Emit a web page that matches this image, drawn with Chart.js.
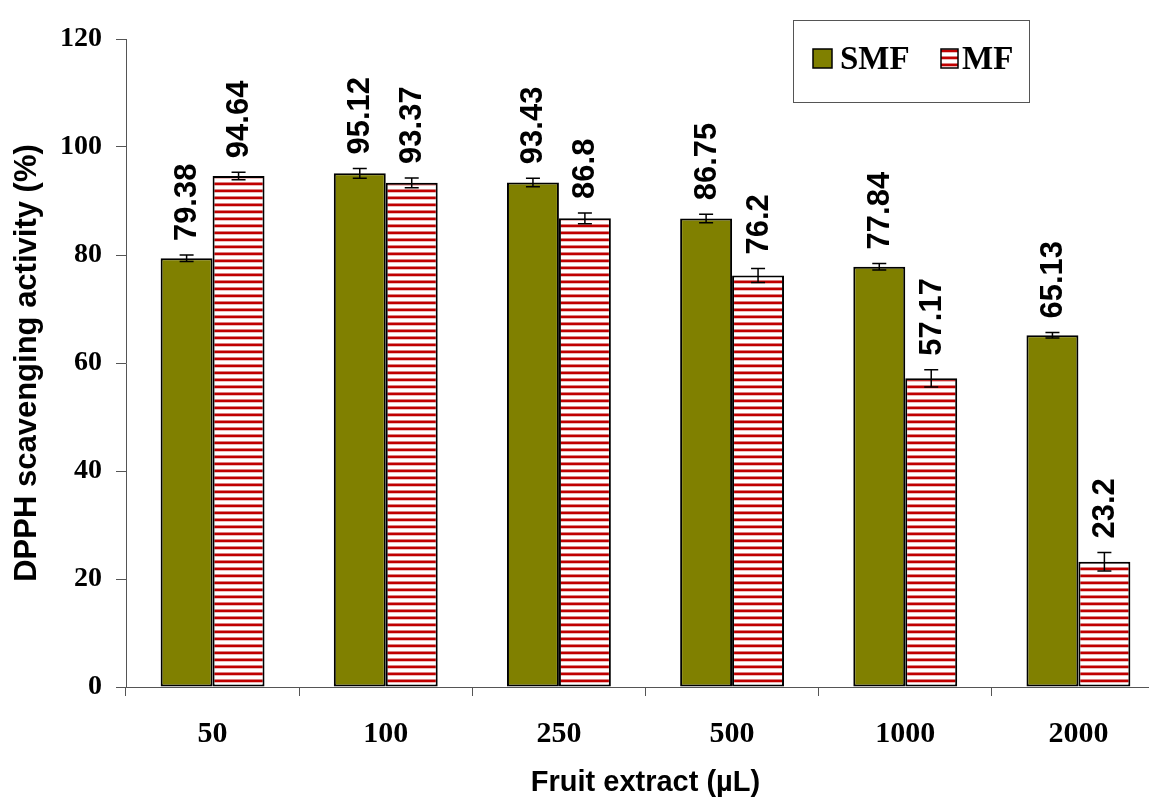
<!DOCTYPE html>
<html>
<head>
<meta charset="utf-8">
<script src="https://cdn.jsdelivr.net/npm/chart.js@4.4.0/dist/chart.umd.min.js"></script>
<style>
  html, body { margin: 0; padding: 0; overflow: hidden; background: #fff; }
  #chart-box { width: 1165px; height: 805px; }
</style>
</head>
<body>
<div id="chart-box"><canvas id="dpph-chart" width="1165" height="805"></canvas></div>
<script>
// values
const doses = ['50', '100', '250', '500', '1000', '2000'];
const smfValues = [79.38, 95.12, 93.43, 86.75, 77.84, 65.13];
const mfValues = [94.64, 93.37, 86.8, 76.2, 57.17, 23.2];
const smfErrors = [0.6, 0.9, 0.8, 0.8, 0.6, 0.5];
const mfErrors = [0.7, 0.9, 1.0, 1.3, 1.6, 1.7];
const yTicks = [0, 20, 40, 60, 80, 100, 120];

const OLIVE = '#808000';
const AXIS_GREY = '#555555';

// horizontal red/white stripes like the MF fill
function makeStripes() {
    const p = document.createElement('canvas');
    p.width = 4;
    p.height = 7;
    const c = p.getContext('2d');
    const rows = ['#dc8080', '#c00000', '#c00000', '#eebbbb', '#ffffff', '#ffffff', '#ffffff'];
    rows.forEach((col, r) => {
        c.fillStyle = col;
        c.fillRect(0, r, 4, 1);
    });
    return document.getElementById('dpph-chart').getContext('2d').createPattern(p, 'repeat');
}
const stripes = makeStripes();

const errors = [smfErrors, mfErrors];

// error bars + rotated value labels
const barExtras = {
    id: 'barExtras',
    afterDatasetsDraw(chart) {
        const ctx = chart.ctx;
        const yScale = chart.scales.y;
        chart.data.datasets.forEach((ds, di) => {
            const meta = chart.getDatasetMeta(di);
            meta.data.forEach((bar, i) => {
                const v = ds.data[i];
                const e = errors[di][i];
                const yHi = yScale.getPixelForValue(v + e);
                const yLo = yScale.getPixelForValue(v - e);
                ctx.save();
                ctx.strokeStyle = '#000';
                ctx.lineWidth = 1.5;
                ctx.beginPath();
                ctx.moveTo(bar.x, yLo);
                ctx.lineTo(bar.x, yHi);
                ctx.moveTo(bar.x - 7, yHi);
                ctx.lineTo(bar.x + 7, yHi);
                ctx.moveTo(bar.x - 7, yLo);
                ctx.lineTo(bar.x + 7, yLo);
                ctx.stroke();

                ctx.translate(bar.x, yHi - 14);
                ctx.rotate(-Math.PI / 2);
                ctx.fillStyle = '#000';
                ctx.font = 'bold 31px "Liberation Sans", Arial, sans-serif';
                ctx.textAlign = 'left';
                ctx.textBaseline = 'middle';
                ctx.fillText(String(v), 0, 1);
                ctx.restore();
            });
        });
    }
};

// boxed legend in the top right corner
const boxLegend = {
    id: 'boxLegend',
    afterDraw(chart) {
        const ctx = chart.ctx;
        ctx.save();
        ctx.fillStyle = '#fff';
        ctx.fillRect(793, 20, 236, 82);
        ctx.strokeStyle = AXIS_GREY;
        ctx.lineWidth = 1;
        ctx.strokeRect(793.5, 20.5, 236, 82);

        ctx.fillStyle = OLIVE;
        ctx.fillRect(813, 49, 19, 19);
        ctx.strokeStyle = '#000';
        ctx.lineWidth = 1.5;
        ctx.strokeRect(813, 49, 19, 19);

        ctx.fillStyle = stripes;
        ctx.fillRect(941, 49, 17, 19);
        ctx.strokeRect(941, 49, 17, 19);

        ctx.fillStyle = '#000';
        ctx.font = 'bold 33px "Liberation Serif", "Times New Roman", serif';
        ctx.textAlign = 'left';
        ctx.textBaseline = 'middle';
        ctx.fillText('SMF', 840, 60);
        ctx.fillText('MF', 962, 60);
        ctx.restore();
    }
};

new Chart(document.getElementById('dpph-chart'), {
    type: 'bar',
    data: {
        labels: doses,
        datasets: [
            {
                label: 'SMF',
                data: smfValues,
                backgroundColor: OLIVE,
                borderColor: '#000',
                borderWidth: 2,
                borderSkipped: false
            },
            {
                label: 'MF',
                data: mfValues,
                backgroundColor: stripes,
                borderColor: '#000',
                borderWidth: 2,
                borderSkipped: false
            }
        ]
    },
    options: {
        responsive: false,
        animation: false,
        layout: { padding: { top: 39, right: 0, bottom: 0, left: 0 } },
        datasets: {
            bar: { categoryPercentage: 0.6, barPercentage: 1.0 }
        },
        scales: {
            x: {
                grid: {
                    display: true,
                    offset: true,
                    drawOnChartArea: false,
                    tickLength: 9,
                    color: AXIS_GREY
                },
                border: { display: true, color: AXIS_GREY, width: 1 },
                ticks: {
                    color: '#000',
                    padding: 20,
                    font: { family: '"Liberation Serif", "Times New Roman", serif', size: 30, weight: 'bold' }
                },
                title: {
                    display: true,
                    text: 'Fruit extract (µL)',
                    color: '#000',
                    padding: 5,
                    font: { family: '"Liberation Sans", Arial, sans-serif', size: 29, weight: 'bold' }
                },
                afterFit(scale) { scale.height = 118; }
            },
            y: {
                min: 0,
                max: 120,
                afterBuildTicks(scale) { scale.ticks = yTicks.map(v => ({ value: v })); },
                grid: {
                    display: true,
                    drawOnChartArea: false,
                    tickLength: 10,
                    color: AXIS_GREY
                },
                border: { display: true, color: AXIS_GREY, width: 1 },
                ticks: {
                    color: '#000',
                    padding: 14,
                    font: { family: '"Liberation Serif", "Times New Roman", serif', size: 28, weight: 'bold' }
                },
                title: {
                    display: true,
                    text: 'DPPH scavenging activity (%)',
                    color: '#000',
                    padding: 9,
                    font: { family: '"Liberation Sans", Arial, sans-serif', size: 31, weight: 'bold' }
                },
                afterFit(scale) { scale.width = 126; }
            }
        },
        plugins: {
            legend: { display: false },
            tooltip: { enabled: false }
        }
    },
    plugins: [barExtras, boxLegend]
});
</script>
</body>
</html>
